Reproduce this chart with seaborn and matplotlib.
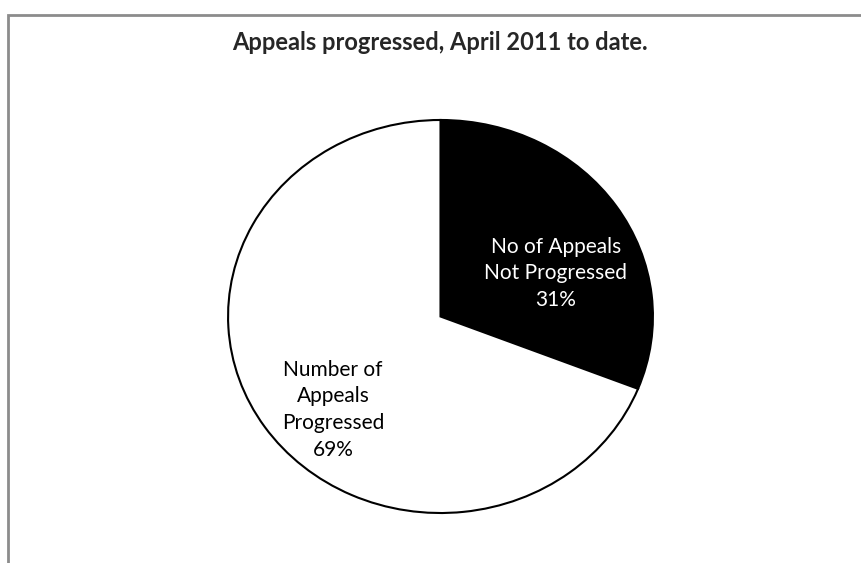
import numpy as np
import pandas as pd
import seaborn as sns
import matplotlib.pyplot as plt
from matplotlib.patches import Rectangle

# Chart data
categories = ['No of Appeals\nNot Progressed', 'Number of\nAppeals\nProgressed']
shares = [31, 69]
slice_colors = ['black', 'white']
label_colors = ['white', 'black']

sns.set_theme(style='white')
plt.rcParams['font.family'] = ['Lato', 'DejaVu Sans']

fig = plt.figure(figsize=(8.62, 5.63), dpi=100)
fig.patch.set_facecolor('white')

# Outer chart-area border (runs off the right and bottom of the picture)
fig.patches.append(Rectangle((8.5 / 862, -0.1), 1.2, 1 - 14.5 / 563 + 0.1,
                             transform=fig.transFigure, fill=False,
                             edgecolor='#8c8c8c', lw=2))

# Plot area sized so the pie comes out slightly wider than tall
ax = fig.add_axes([227 / 862, 49 / 563, 427 / 862, 395 / 563])
wedges, texts = ax.pie(shares, colors=slice_colors, startangle=90, counterclock=False,
                       wedgeprops=dict(edgecolor='black', linewidth=1.5))
ax.set_aspect('auto')
ax.set_xlim(-1.005, 1.005)
ax.set_ylim(-1.005, 1.005)

# Data labels inside the slices
label_pos = [(0.543, 0.22), (-0.506, -0.475)]
for name, val, col, (x, y) in zip(categories, shares, label_colors, label_pos):
    ax.text(x, y, f'{name}\n{val}%', color=col, ha='center', va='center',
            fontsize=15, linespacing=1.42)

fig.text(440 / 862, 1 - 43 / 563, 'Appeals progressed, April 2011 to date.',
         ha='center', va='center', fontsize=17, fontweight='bold')

plt.savefig('out.png', dpi=100)
